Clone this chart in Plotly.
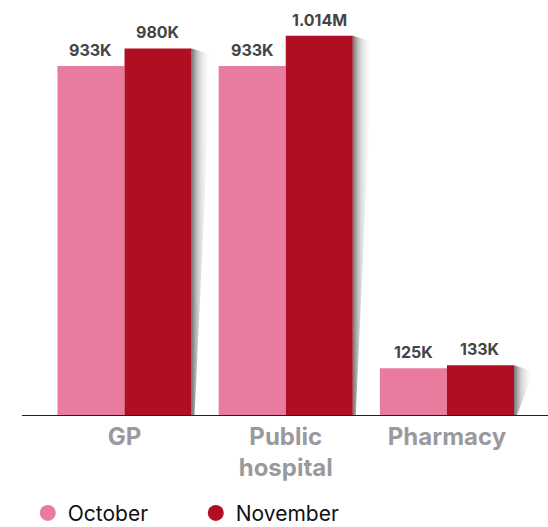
import plotly.graph_objects as go

categories = ["GP", "Public<br>hospital", "Pharmacy"]
october = [933000, 933000, 125000]
november = [980000, 1014000, 133000]
october_labels = ["933K", "933K", "125K"]
november_labels = ["980K", "1.014M", "133K"]

PINK = "#E87B9E"
RED = "#B00F22"

# layout constants
W, H = 548, 527
ML, MR, MT, MB = 22, 0, 20, 112
XR = [-0.636, 2.627]
YR = [0, 1056000]
BARGAP = 0.168
px_x = (XR[1] - XR[0]) / (W - ML - MR)   # data units per pixel (x)
px_y = (YR[1] - YR[0]) / (H - MT - MB)   # data units per pixel (y)
half_group = (1 - BARGAP) / 2
bar_w = half_group

idx = list(range(len(categories)))

fig = go.Figure()

# soft shadows to the right of the November bars
for i, v in zip(idx, november):
    xr = i + half_group
    fig.add_trace(go.Scatter(
        x=[xr, xr + 20 * px_x, xr + 3 * px_x, xr, xr],
        y=[v, v - 6 * px_y, 0, 0, v],
        fill="toself", mode="lines", line=dict(width=0),
        fillgradient=dict(type="horizontal",
                          colorscale=[[0, "rgba(80,80,80,0.8)"], [0.35, "rgba(140,140,140,0.4)"],
                                      [1, "rgba(255,255,255,0)"]]),
        hoverinfo="skip", showlegend=False, cliponaxis=False))

fig.add_trace(go.Bar(x=idx, y=october, name="October", marker_color=PINK,
                     marker_line_width=0, showlegend=False))
fig.add_trace(go.Bar(x=idx, y=november, name="November", marker_color=RED,
                     marker_line_width=0, showlegend=False))
# legend entries with round markers
fig.add_trace(go.Scatter(x=[None], y=[None], mode="markers", name="October",
                         marker=dict(color=PINK, size=16, symbol="circle")))
fig.add_trace(go.Scatter(x=[None], y=[None], mode="markers", name="November",
                         marker=dict(color=RED, size=16, symbol="circle")))

label_font = dict(family="Inter", size=16, color="#444444", weight="bold")
for labels, vals, sign in ((october_labels, october, -1), (november_labels, november, 1)):
    for i, v, t in zip(idx, vals, labels):
        fig.add_annotation(x=i + sign * bar_w / 2, y=v, text=t, showarrow=False,
                           yanchor="bottom", xanchor="center", yshift=4, font=label_font)

fig.update_layout(
    width=W, height=H,
    margin=dict(l=ML, r=MR, t=MT, b=MB, autoexpand=False),
    plot_bgcolor="white", paper_bgcolor="white",
    barmode="group", bargap=BARGAP, bargroupgap=0,
    font=dict(family="Inter"),
    xaxis=dict(range=XR, showline=True, linecolor="#222222", linewidth=1.3,
               tickmode="array", tickvals=idx, ticktext=categories,
               ticks="", showgrid=False, zeroline=False,
               tickfont=dict(family="Inter", size=24, color="#9a9a9e", weight="bold")),
    yaxis=dict(range=YR, visible=False, showgrid=False),
    legend=dict(orientation="h", x=0.011, y=-0.197, xanchor="left", yanchor="top",
                entrywidth=123, entrywidthmode="pixels",
                font=dict(family="Inter", size=21, color="#111111"),
                itemsizing="trace"),
    showlegend=True,
)
fig.write_html("out.html")
